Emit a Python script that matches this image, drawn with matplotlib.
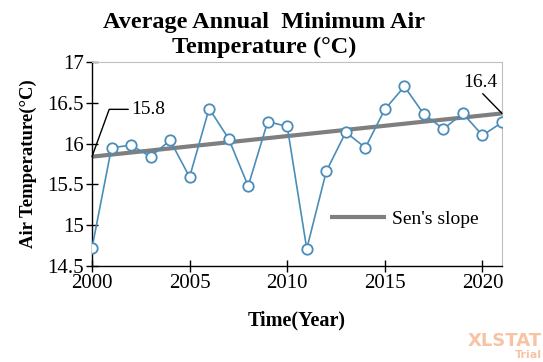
import matplotlib.pyplot as plt
import numpy as np

years = list(range(2000, 2022))
temps = [14.72, 15.95, 15.98, 15.84, 16.04, 15.59, 16.43, 16.06, 15.48, 16.27, 16.21,
         14.71, 15.66, 16.14, 15.95, 16.42, 16.70, 16.36, 16.18, 16.37, 16.10, 16.26]
sen_start = 15.84
sen_end = 16.37
sen_labels = ["15.8", "16.4"]

plt.rcParams['font.family'] = ['Liberation Serif', 'DejaVu Serif']

fig = plt.figure(figsize=(5.43, 3.62), dpi=100)
ax = fig.add_axes([0.1694, 0.2652, 0.7551, 0.5635])

ax.plot(years, temps, color='#4b8db8', lw=1.2, marker='o', ms=7.5,
        mfc='white', mec='#4b8db8', mew=1.3, zorder=3)
ax.plot([years[0], years[-1]], [sen_start, sen_end], color='#7f7f7f', lw=3,
        label="Sen's slope", zorder=2, solid_capstyle='butt')

ax.set_xlim(2000, 2021)
ax.set_ylim(14.5, 17)
ax.set_xticks([2000, 2005, 2010, 2015, 2020])
ax.set_yticks([14.5, 15, 15.5, 16, 16.5, 17])
ax.set_yticklabels(['14.5', '15', '15.5', '16', '16.5', '17'])
ax.tick_params(direction='inout', length=8, width=1, labelsize=15, pad=2)

for s in ['top', 'right']:
    ax.spines[s].set_color('#bfbfbf')
    ax.spines[s].set_linewidth(0.8)
for s in ['left', 'bottom']:
    ax.spines[s].set_color('black')
    ax.spines[s].set_linewidth(1)

ax.set_xlabel('Time(Year)', fontsize=14.5, fontweight='bold', labelpad=12)
ax.set_ylabel('Air Temperature(°C)', fontsize=13.5, fontweight='bold', labelpad=7)

fig.text(0.486, 0.904, 'Average Annual  Minimum Air\nTemperature (°C)', ha='center', va='center',
         fontsize=17.5, fontweight='bold', linespacing=1.25)

# data labels for the Sen's slope ends
ax.annotate(sen_labels[0], xy=(years[0], sen_start), xytext=(2002.0, 16.42),
            fontsize=14, va='center', ha='left',
            arrowprops=dict(arrowstyle='-', color='black', lw=1,
                            connectionstyle='angle,angleA=0,angleB=70,rad=0',
                            shrinkA=0, shrinkB=0, relpos=(0, 0.5)))
ax.annotate(sen_labels[1], xy=(years[-1], sen_end), xytext=(2019.0, 16.75),
            fontsize=14, va='center', ha='left',
            arrowprops=dict(arrowstyle='-', color='black', lw=1,
                            shrinkA=0, shrinkB=0, relpos=(0.5, 0)))

leg = ax.legend(loc='lower right', bbox_to_anchor=(0.985, 0.1), frameon=False,
                fontsize=14, handlelength=2.9, handletextpad=0.3)

fig.text(0.998, 0.058, 'XLSTAT', color='#f8c3a5', fontsize=13, fontweight='bold',
         ha='right', va='center', family='DejaVu Sans')
fig.text(0.998, 0.018, 'Trial', color='#f8c3a5', fontsize=8, fontweight='bold',
         ha='right', va='center', family='DejaVu Sans')

fig.savefig('out.png', dpi=100)
